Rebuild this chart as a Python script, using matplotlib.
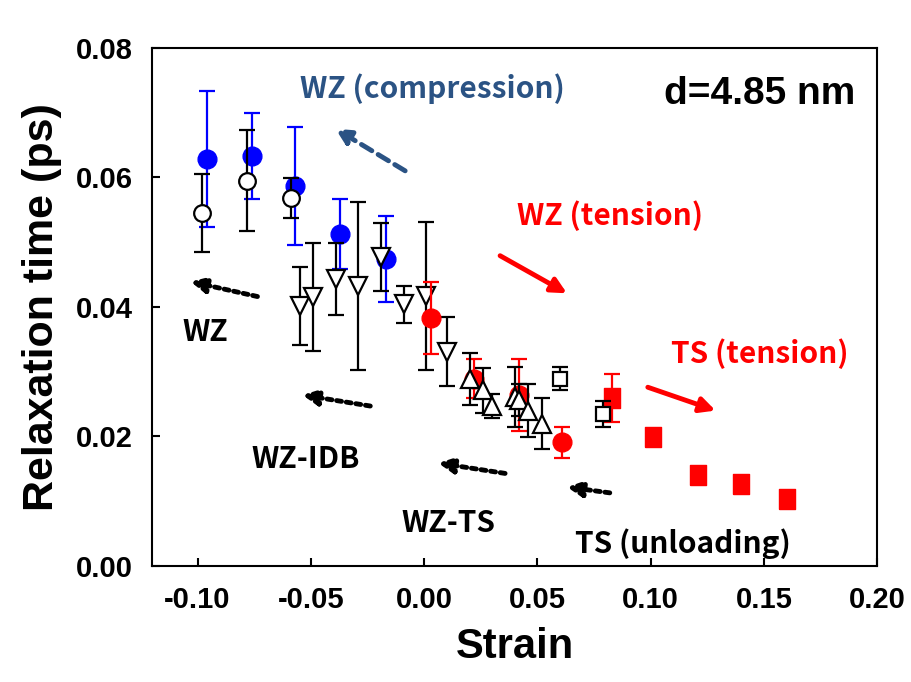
import matplotlib
matplotlib.use("Agg")
import matplotlib.pyplot as plt

plt.rcParams['axes.unicode_minus'] = False
plt.rcParams['font.family'] = ['Liberation Sans', 'DejaVu Sans']

# WZ (compression) - blue filled circles
wzc_x = [-0.096, -0.076, -0.057, -0.037, -0.017]
wzc_y = [0.0629, 0.0633, 0.0587, 0.0512, 0.0474]
wzc_e = [0.0105, 0.0067, 0.0091, 0.0054, 0.0067]

# WZ - open circles
wz_x = [-0.098, -0.078, -0.059]
wz_y = [0.0545, 0.0595, 0.0568]
wz_e = [0.0060, 0.0078, 0.0031]

# WZ-IDB - open down triangles
idb_x = [-0.055, -0.049, -0.039, -0.029, -0.019, -0.009, 0.001, 0.010]
idb_y = [0.0401, 0.0415, 0.0443, 0.0432, 0.0477, 0.0404, 0.0417, 0.0331]
idb_e = [0.0060, 0.0083, 0.0056, 0.0130, 0.0052, 0.0029, 0.0114, 0.0053]

# WZ (tension) - red filled circles
wzt_x = [0.003, 0.022, 0.042, 0.061]
wzt_y = [0.0383, 0.0289, 0.0264, 0.0191]
wzt_e = [0.0055, 0.0030, 0.0055, 0.0024]

# WZ-TS - open up triangles
wts_x = [0.020, 0.026, 0.030, 0.040, 0.042, 0.046, 0.052]
wts_y = [0.0289, 0.0271, 0.0247, 0.0261, 0.0256, 0.0240, 0.0220]
wts_e = [0.0040, 0.0034, 0.0018, 0.0046, 0.0025, 0.0041, 0.0040]

# TS (unloading) - open squares
tsu_x = [0.060, 0.079]
tsu_y = [0.0289, 0.0235]
tsu_e = [0.0018, 0.0020]

# TS (tension) - red filled squares
tst_x = [0.083, 0.101, 0.121, 0.140, 0.160]
tst_y = [0.0260, 0.0199, 0.0140, 0.0127, 0.0103]
tst_e = [0.0037, 0, 0, 0, 0]

fig = plt.figure(figsize=(9.12, 6.82), dpi=100)
ax = fig.add_axes([0.167, 0.170, 0.795, 0.760])

# slightly tall rectangle, like the red squares in the figure
rect = [(-0.8, -1), (0.8, -1), (0.8, 1), (-0.8, 1), (-0.8, -1)]

eb = dict(capsize=6, elinewidth=1.6, capthick=1.6, linestyle='none')
ax.errorbar(wz_x, wz_y, yerr=wz_e, fmt='o', ms=12, mfc='white', mec='k',
            mew=1.6, ecolor='k', zorder=3, **eb)
ax.errorbar(wzc_x, wzc_y, yerr=wzc_e, fmt='o', ms=13.5, mfc='#0000ff', mec='#0000ff',
            ecolor='#0000ff', zorder=2, **eb)
ax.errorbar(idb_x, idb_y, yerr=idb_e, fmt='v', ms=13, mfc='white', mec='k',
            mew=1.6, ecolor='k', zorder=3, **eb)
ax.errorbar(wzt_x, wzt_y, yerr=wzt_e, fmt='o', ms=13.5, mfc='#ff0000', mec='#ff0000',
            ecolor='#ff0000', zorder=4, **eb)
ax.errorbar(wts_x, wts_y, yerr=wts_e, fmt='^', ms=13, mfc='white', mec='k',
            mew=1.6, ecolor='k', zorder=5, **eb)
ax.errorbar(tsu_x, tsu_y, yerr=tsu_e, fmt='s', ms=10.5, mfc='white', mec='k',
            mew=1.6, ecolor='k', zorder=3, **eb)
ax.errorbar(tst_x, tst_y, yerr=tst_e, marker=rect, ms=15, mfc='#ff0000', mec='#ff0000',
            ecolor='#ff0000', zorder=2, **eb)

ax.set_xlim(-0.12, 0.20)
ax.set_ylim(0, 0.08)
ax.set_xticks([-0.10, -0.05, 0.00, 0.05, 0.10, 0.15, 0.20])
ax.set_yticks([0.00, 0.02, 0.04, 0.06, 0.08])
ax.xaxis.set_major_formatter(matplotlib.ticker.FormatStrFormatter('%.2f'))
ax.yaxis.set_major_formatter(matplotlib.ticker.FormatStrFormatter('%.2f'))
ax.tick_params(direction='in', length=6, width=1.5, labelsize=21, pad=14)
for lab in ax.get_xticklabels() + ax.get_yticklabels():
    lab.set_fontweight('bold')
for s in ax.spines.values():
    s.set_linewidth(1.5)

ax.set_xlabel('Strain', fontsize=30, fontweight='bold', labelpad=10)
ax.set_ylabel('Relaxation time (ps)', fontsize=31, fontweight='bold', labelpad=10)

ax.text(0.148, 0.0729, 'd=4.85 nm', fontsize=28, fontweight='bold', ha='center', va='center')

kfont = ['Noto Sans CJK KR', 'DejaVu Sans']
labels = [
    ('WZ (compression)', 0.0035, 0.0737, '#2b5384'),
    ('WZ (tension)', 0.0819, 0.0541, '#ff0000'),
    ('TS (tension)', 0.148, 0.0328, '#ff0000'),
    ('WZ', -0.0965, 0.0361, 'k'),
    ('WZ-IDB', -0.0524, 0.0166, 'k'),
    ('WZ-TS', 0.0106, 0.0066, 'k'),
    ('TS (unloading)', 0.1141, 0.0035, 'k'),
]
for t, x, y, c in labels:
    ax.text(x, y, t, fontsize=21.5, fontweight='bold', color=c, family=kfont,
            ha='center', va='center')

arrows = [
    ((-0.0084, 0.0610), (-0.0392, 0.0675), '#2b5384', (0, (2.5, 1.5))),
    ((0.0335, 0.0479), (0.0630, 0.0421), '#ff0000', '-'),
    ((0.0987, 0.0276), (0.1286, 0.0240), '#ff0000', '-'),
    ((-0.0736, 0.0416), (-0.1031, 0.0439), 'k', (0, (1, 1))),
    ((-0.0238, 0.0247), (-0.0537, 0.0264), 'k', (0, (1, 1))),
    ((0.0357, 0.0143), (0.0062, 0.0159), 'k', (0, (1, 1))),
    ((0.0819, 0.0113), (0.0630, 0.0122), 'k', (0, (1, 1))),
]
for tail, head, c, ls in arrows:
    ax.annotate('', xy=head, xytext=tail,
                arrowprops=dict(arrowstyle='-|>,head_length=0.9,head_width=0.45',
                                color=c, lw=3.5, linestyle=ls, shrinkA=0, shrinkB=0))

fig.savefig('out.png', dpi=100)
